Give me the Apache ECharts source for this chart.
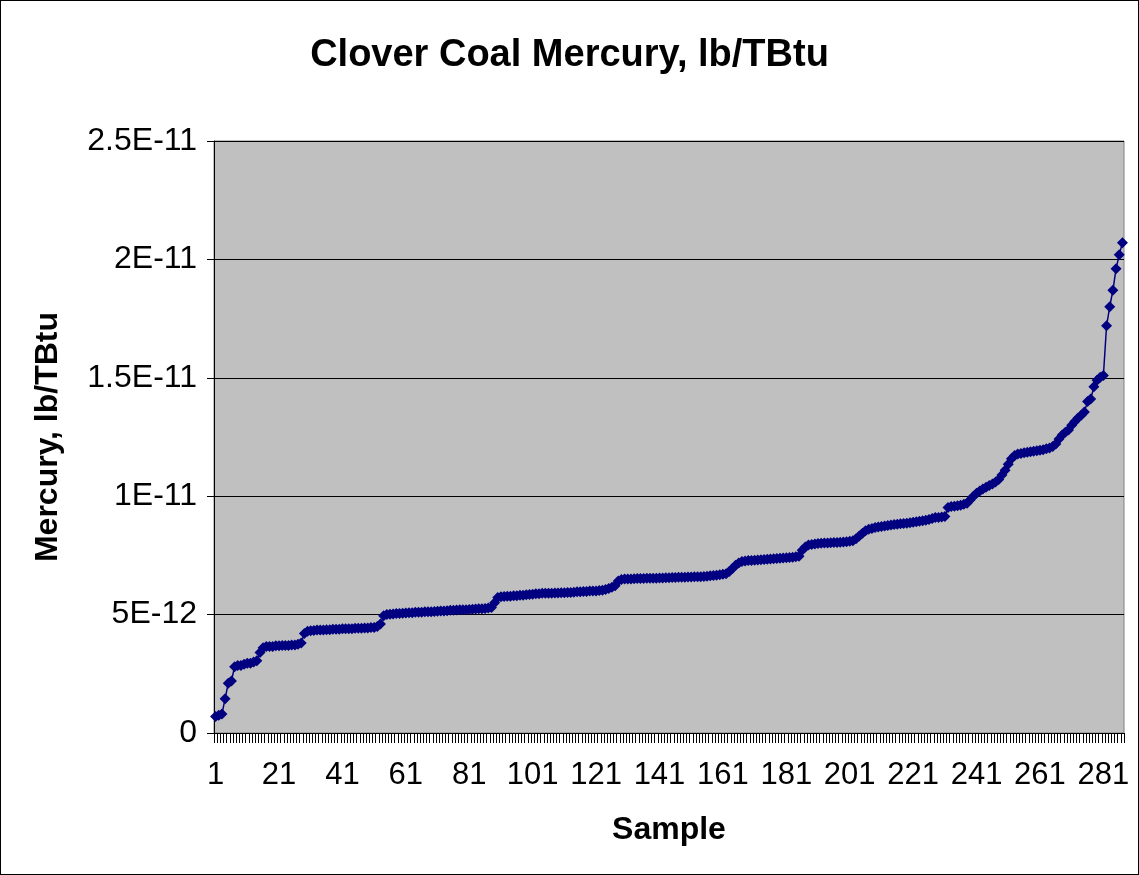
<!DOCTYPE html>
<html>
<head>
<meta charset="utf-8">
<script src="https://cdn.jsdelivr.net/npm/echarts@6/dist/echarts.min.js"></script>
<style>
  html, body { margin: 0; padding: 0; background: #fff; }
  #main { width: 1137px; height: 873px; border: 1px solid #000; }
</style>
</head>
<body>
<div id="main"></div>
<script>
// mercury values, in units of 1E-12 lb/TBtu, samples 1..287
var mercury = [
  0.70,0.75,0.80,1.45,2.10,2.20,2.80,2.85,2.85,2.90,2.95,2.95,3.00,3.05,3.40,3.60,
  3.65,3.65,3.65,3.68,3.68,3.70,3.70,3.70,3.72,3.72,3.75,
  3.80,
  4.20,
  4.30,4.32,4.33,4.35,4.35,4.35,4.36,4.36,4.38,4.38,4.38,4.40,4.40,4.40,4.40,4.42,4.42,4.42,4.43,4.43,4.45,4.45,
  4.50,4.60,
  4.95,
  5.00,5.02,5.03,5.05,5.05,5.06,5.07,5.08,5.08,5.10,5.10,5.10,5.12,5.12,5.12,5.13,5.14,5.15,5.15,5.16,5.18,5.18,5.19,5.20,5.20,5.21,5.22,5.23,5.24,5.25,5.25,5.26,5.28,5.30,
  5.50,
  5.72,5.75,5.76,5.78,5.78,5.80,5.80,5.82,5.82,5.84,5.85,5.86,
  5.88,5.88,5.90,5.90,5.90,5.90,5.91,5.91,5.92,5.92,5.93,5.93,5.94,
  5.96,5.97,5.98,5.98,6.00,6.00,6.00,6.02,6.03,
  6.06,6.10,6.15,6.22,
  6.42,
  6.48,6.50,6.50,6.50,6.51,6.52,6.52,6.52,6.53,6.53,6.54,6.54,6.55,
  6.55,6.56,6.56,6.57,6.57,6.58,6.58,6.58,6.59,6.59,6.60,6.60,6.60,6.61,6.62,
  6.64,6.65,6.66,6.68,6.70,6.72,
  6.82,6.95,7.08,7.18,
  7.24,7.26,7.28,7.28,7.30,7.31,7.32,7.33,7.34,7.35,7.36,7.37,7.38,7.39,7.40,7.41,7.42,7.44,7.46,
  7.72,7.85,
  7.94,7.96,7.98,8.00,8.01,8.02,8.02,8.03,8.04,8.05,8.06,8.07,8.08,8.10,8.12,
  8.20,8.32,8.44,8.54,8.60,8.64,
  8.68,8.70,8.72,8.74,8.76,8.78,8.80,8.82,8.84,8.85,8.86,8.88,8.90,8.92,8.94,8.96,8.98,9.02,9.06,
  9.10,9.10,9.12,9.14,
  9.52,9.56,9.58,9.60,9.62,9.66,9.70,
  9.85,10.00,10.12,10.22,10.30,
  10.38,10.45,10.52,10.60,10.70,
  10.90,11.10,11.35,11.58,11.72,
  11.78,11.80,11.84,11.86,11.88,11.90,11.92,11.94,11.96,12.00,12.04,12.10,
  12.20,12.42,12.58,12.70,12.80,
  13.00,13.15,13.30,13.42,13.56,
  14.00,14.10,14.62,14.90,15.02,15.10,17.20,18.00,18.70,19.60,20.20,20.70
];
var samples = mercury.map(function (v, i) { return String(i + 1); });
var yTicks = [0, 5, 10, 15, 20, 25];
var yTickLabels = ['0', '5E-12', '1E-11', '1.5E-11', '2E-11', '2.5E-11'];

var font = 'Liberation Sans, Arial, sans-serif';
var myChart = echarts.init(document.getElementById('main'));
myChart.setOption({
  animation: false,
  title: {
    text: 'Clover Coal Mercury, lb/TBtu',
    left: 'center',
    top: 31,
    textStyle: { fontFamily: font, fontSize: 38, fontWeight: 'bold', color: '#000' }
  },
  grid: {
    left: 213, right: 14, top: 140, bottom: 141,
    show: true, backgroundColor: '#C0C0C0', borderColor: '#808080', borderWidth: 1
  },
  xAxis: {
    type: 'category',
    data: samples,
    boundaryGap: true,
    name: 'Sample',
    nameLocation: 'middle',
    nameGap: 81,
    nameTextStyle: { fontFamily: font, fontSize: 32, fontWeight: 'bold', color: '#000' },
    axisLine: { lineStyle: { color: '#000', width: 1 } },
    axisTick: { show: true, interval: 0, length: 10, lineStyle: { color: '#000' } },
    axisLabel: { interval: 19, margin: 27, fontFamily: font, fontSize: 31, color: '#000' },
    splitLine: { show: false }
  },
  yAxis: {
    type: 'value',
    min: yTicks[0],
    max: yTicks[yTicks.length - 1],
    interval: 5,
    name: 'Mercury, lb/TBtu',
    nameLocation: 'middle',
    nameGap: 150,
    nameTextStyle: { fontFamily: font, fontSize: 32, fontWeight: 'bold', color: '#000' },
    axisLine: { show: true, lineStyle: { color: '#000', width: 1 } },
    axisTick: { show: true, length: 7, lineStyle: { color: '#000' } },
    axisLabel: {
      margin: 17, fontFamily: font, fontSize: 32, color: '#000',
      formatter: function (v) { return yTickLabels[yTicks.indexOf(v)]; }
    },
    splitLine: { show: true, lineStyle: { color: '#000', width: 1 } }
  },
  series: [{
    type: 'line',
    data: mercury,
    symbol: 'diamond',
    symbolSize: 11,
    showAllSymbol: true,
    itemStyle: { color: '#000080' },
    lineStyle: { color: '#000080', width: 1.5 }
  }]
});
</script>
</body>
</html>
